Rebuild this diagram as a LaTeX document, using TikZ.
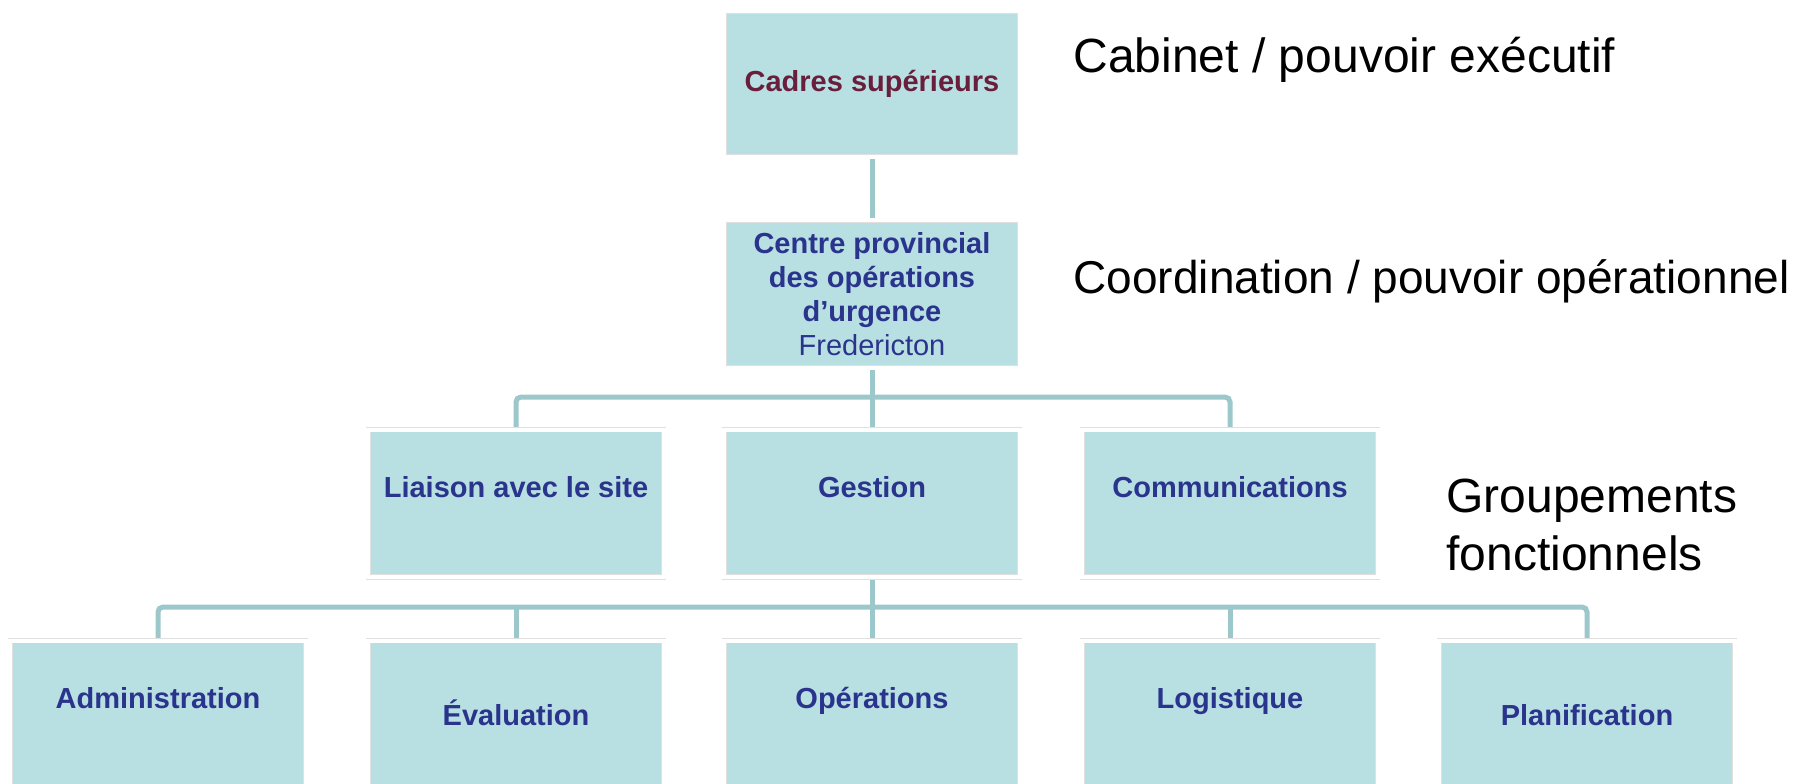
\documentclass[tikz,border=0pt]{standalone}
\usepackage{fontspec}
\setmainfont{Liberation Sans}
\usetikzlibrary{positioning,backgrounds}
\definecolor{unitfill}{RGB}{184,223,225}
\definecolor{linkcol}{RGB}{156,199,203}
\definecolor{unitblue}{RGB}{42,52,140}
\definecolor{unitred}{RGB}{105,30,60}
\tikzset{
  unit/.style={rectangle,fill=unitfill,draw=black!12,line width=0.6pt,
    double=white,double distance=4pt,inner sep=0pt,minimum width=295.2pt,
    align=center,text=unitblue,font=\bfseries\fontsize{29}{34}\selectfont},
  midunit/.style={unit,anchor=north,text height=67.6pt,text depth=79.6pt},
  lowunit/.style={unit,anchor=north,text height=#1,text depth=110pt},
  link/.style={draw=linkcol,line width=5pt,rounded corners=5pt},
  tier/.style={font=\fontsize{48}{58}\selectfont,align=left,anchor=base west}
}
\begin{document}
\begin{tikzpicture}[x=1pt,y=-1pt]
\useasboundingbox (0,0) rectangle (1812,784);
\clip (0,0) rectangle (1812,784);
% top levels
\node[unit,text=unitred,minimum height=145.2pt] (cadres) at (872,84) {Cadres supérieurs};
\node[unit,minimum height=147.2pt] (cpou) at (872,294) {Centre provincial\\des opérations\\d’urgence\\{\mdseries Fredericton}};
% functional groups
\node[midunit] (liaison) at (516,429.4) {Liaison avec le site};
\node[midunit] (gestion) at (872,429.4) {Gestion};
\node[midunit] (comms) at (1230,429.4) {Communications};
% sections
\node[lowunit=67.6pt] (admin) at (158,640.4) {Administration};
\node[lowunit=84.6pt] (eval) at (516,640.4) {Évaluation};
\node[lowunit=67.6pt] (oper) at (872,640.4) {Opérations};
\node[lowunit=67.6pt] (logi) at (1230,640.4) {Logistique};
\node[lowunit=84.6pt] (plan) at (1587,640.4) {Planification};
% tiers
\node[tier] (cabinet) at (1070,73) {Cabinet / pouvoir exécutif};
\node[tier,font=\fontsize{46}{56}\selectfont] (coord) at (1070,293) {Coordination / pouvoir opérationnel};
\node[tier] (groupes) at (1443,570) {Groupements\\fonctionnels};
% links
\coordinate (bar1) at (872,397);
\coordinate (bar2) at (872,607);
\begin{scope}[on background layer]
\draw[link] (cadres) -- (cpou);
\draw[link] (cpou) -- (gestion);
\draw[link] (liaison.north) |- (bar1) -| (comms.north);
\draw[link] (gestion) -- (oper);
\draw[link] (admin.north) |- (bar2) -| (plan.north);
\draw[link] (eval.north) -- (eval.north |- bar2);
\draw[link] (logi.north) -- (logi.north |- bar2);
\end{scope}
\end{tikzpicture}
\end{document}
